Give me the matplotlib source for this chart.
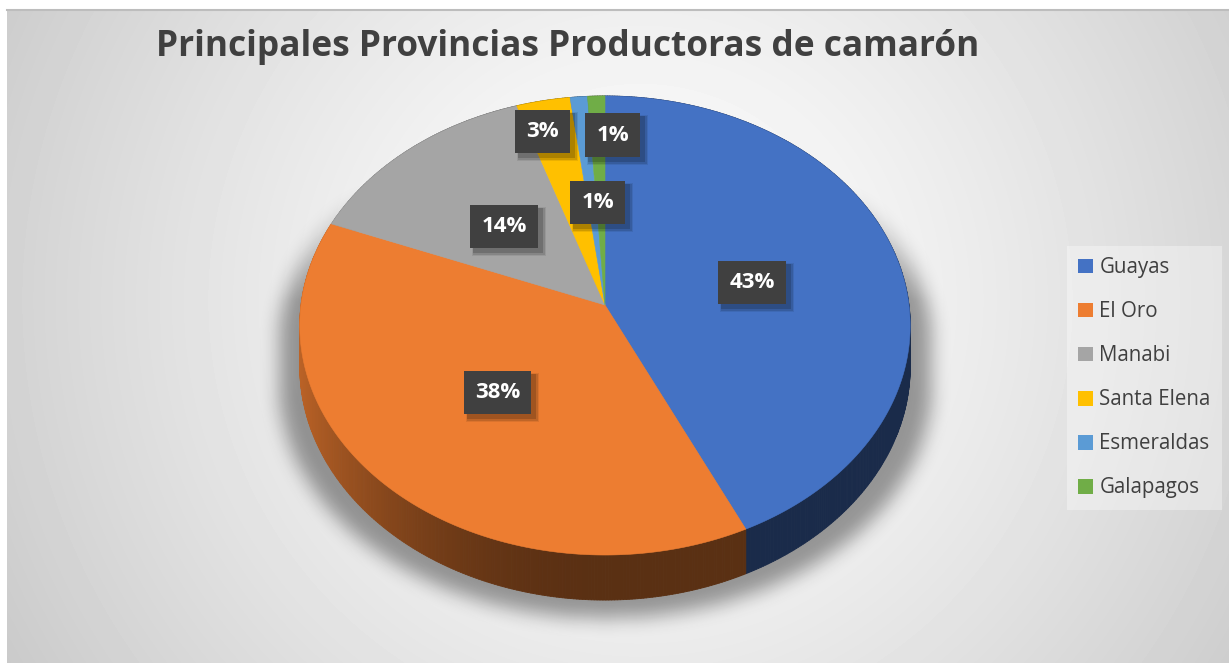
import numpy as np
import matplotlib
matplotlib.use("Agg")
import matplotlib.pyplot as plt
from matplotlib.patches import Polygon, Patch, Rectangle
from matplotlib.collections import PolyCollection
from matplotlib.path import Path

# datos (% de la produccion)
provincias = ["Guayas", "El Oro", "Manabi", "Santa Elena", "Esmeraldas", "Galapagos"]
produccion = [43.0, 38.0, 13.9, 3.1, 1.0, 1.0]
colores = ["#4472C4", "#ED7D31", "#A5A5A5", "#FFC000", "#5B9BD5", "#70AD47"]
titulo = "Principales Provincias Productoras de camarón"

# geometria del pastel 3D (en pixeles de la figura)
W, H = 1229, 663
cx, cy = 605, 305
A, B, D, K = 304, 227.7, 41, 0.0893

# posicion de etiquetas (fraccion del radio, ajuste horizontal px)
label_r = [0.5, 0.5, 0.5, 0.85, 0.48, 0.81]
label_dx = [0, 0, 0, -9, 6, 15]


def proj(theta, r=1.0, h=0.0):
    x3 = r * np.sin(theta)
    z3 = r * np.cos(theta)
    w = 1 + K * z3
    return cx + A * x3 / w, cy - B * z3 / w + D * h / w


def box_blur(a, r, axis):
    n = a.shape[axis]
    pw = [(0, 0), (0, 0)]
    pw[axis] = (r + 1, r)
    p = np.pad(a, pw, mode="edge")
    c = np.cumsum(p, axis=axis)
    hi = np.take(c, np.arange(2 * r + 1, n + 2 * r + 1), axis=axis)
    lo = np.take(c, np.arange(0, n), axis=axis)
    return (hi - lo) / (2 * r + 1)


fig = plt.figure(figsize=(W / 100, H / 100), dpi=100)
fig.patch.set_facecolor("white")
ax = fig.add_axes([0, 0, 1, 1])
ax.set_xlim(0, W)
ax.set_ylim(H, 0)
ax.axis("off")

# fondo con degradado radial
gx, gy = np.meshgrid(np.arange(7, W), np.arange(10, H))
dist = np.hypot(gx - 640, gy - 300) / 734.0
bg = 1.0 - 0.21 * dist ** 1.3
ax.imshow(bg, cmap="gray", vmin=0, vmax=1, extent=(7, W, H, 10),
          interpolation="bilinear", zorder=0, aspect="auto")
ax.plot([7, W], [10, 10], color="#bdbdbd", lw=1.5, zorder=1)

# angulos de los sectores (sentido horario desde arriba)
frac = np.array(produccion) / np.sum(produccion)
edges = np.concatenate([[0], np.cumsum(frac)]) * 2 * np.pi

# sombra del pastel
t = np.linspace(0, 2 * np.pi, 721)
tx, ty = proj(t)
bx, by = proj(t, h=1.0)
sx, sy = np.meshgrid(np.arange(0, W, 2), np.arange(0, H, 2))
srcx = cx + (sx - cx) / 1.07
srcy = sy - 18
pts = np.column_stack([srcx.ravel(), srcy.ravel()])
m = Path(np.column_stack([tx, ty])).contains_points(pts) | \
    Path(np.column_stack([bx, by])).contains_points(pts)
m = m.reshape(sx.shape).astype(float)
for _ in range(3):
    m = box_blur(m, 4, 0)
    m = box_blur(m, 4, 1)
fade = np.clip((sy - 180) / 120.0, 0, 1)
shadow = np.zeros(m.shape + (4,))
shadow[..., 3] = 0.38 * m * fade
ax.imshow(shadow, extent=(0, W, H, 0), interpolation="bilinear",
          zorder=2, aspect="auto")

# lateral del pastel
quads, qcols, qz = [], [], []
for i, col in enumerate(colores):
    rgb = np.array(matplotlib.colors.to_rgb(col))
    n = max(2, int(np.degrees(edges[i + 1] - edges[i]) * 2))
    th = np.linspace(edges[i], edges[i + 1], n + 1)
    for a0, a1 in zip(th[:-1], th[1:]):
        x0, y0 = proj(a0)
        x1, y1 = proj(a1)
        x2, y2 = proj(a1, h=1.0)
        x3, y3 = proj(a0, h=1.0)
        quads.append([(x0, y0), (x1, y1), (x2, y2), (x3, y3)])
        am = 0.5 * (a0 + a1)
        f = 0.38 + 0.42 * max(0.0, -np.sin(am)) ** 2
        qcols.append(np.clip(rgb * f, 0, 1))
        qz.append(np.cos(am))
order = np.argsort(qz)[::-1]
pc = PolyCollection([quads[j] for j in order],
                    facecolors=[qcols[j] for j in order],
                    edgecolors=[qcols[j] for j in order], linewidths=0.6,
                    zorder=3)
ax.add_collection(pc)

# cara superior
for i, col in enumerate(colores):
    n = max(2, int(np.degrees(edges[i + 1] - edges[i]) * 2))
    th = np.linspace(edges[i], edges[i + 1], n + 1)
    px, py = proj(th)
    verts = [(cx, cy)] + list(zip(px, py))
    ax.add_patch(Polygon(verts, closed=True, facecolor=col, edgecolor=col,
                         linewidth=0.4, zorder=4))

# etiquetas de datos
labels = []
for i, v in enumerate(frac):
    mid = 0.5 * (edges[i] + edges[i + 1])
    lx, ly = proj(mid, r=label_r[i])
    lx += label_dx[i]
    txt = f"{v * 100:.0f}%"
    labels.append(ax.text(lx, ly + 2, txt, ha="center", va="center",
                          fontsize=16, fontweight="bold", family="Open Sans",
                          color="white", zorder=6,
                          bbox=dict(boxstyle="square,pad=0.5", fc="#404040",
                                    ec="none")))

# sombra de las etiquetas
fig.canvas.draw()
renderer = fig.canvas.get_renderer()
inv = ax.transData.inverted()
for lab in labels:
    bb = lab.get_bbox_patch().get_window_extent(renderer)
    (x0, y0), (x1, y1) = inv.transform([[bb.x0, bb.y0], [bb.x1, bb.y1]])
    for grow, off, a in [(3, 5, 0.08), (2, 5, 0.12), (1, 4, 0.16)]:
        ax.add_patch(Rectangle((x0 + off - grow, y1 + off - grow),
                               (x1 - x0) + 2 * grow, (y0 - y1) + 2 * grow,
                               facecolor="black", alpha=a, edgecolor="none",
                               zorder=5))

# titulo
ax.text(568, 56, titulo, ha="center", va="baseline", fontsize=25.4,
        fontweight="bold", family="Open Sans", color="#404040", zorder=6)

# leyenda
handles = [Patch(facecolor=c, edgecolor="none") for c in colores]
leg = fig.legend(handles, provincias, loc="upper left",
                 bbox_to_anchor=(1067 / W, 1 - 246 / H), borderaxespad=0,
                 frameon=True, fancybox=False, facecolor="white",
                 edgecolor="none", framealpha=0.35,
                 prop={"family": "Open Sans", "size": 14.8},
                 labelcolor="#404040", handlelength=0.72, handleheight=0.72,
                 handletextpad=0.3, labelspacing=1.12, borderpad=0.55)

fig.savefig("out.png", dpi=100, facecolor="white")
